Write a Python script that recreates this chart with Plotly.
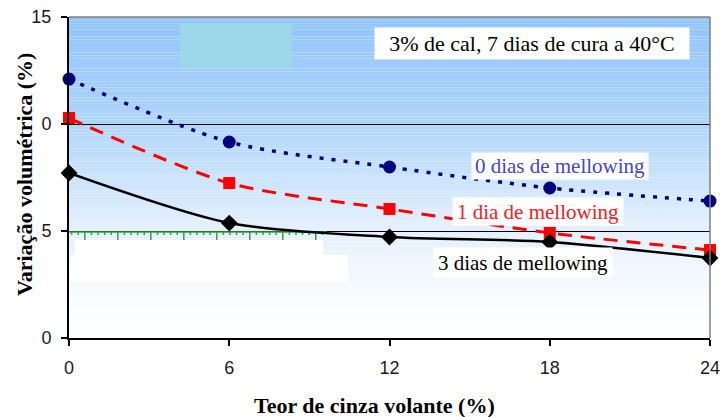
import plotly.graph_objects as go

# ---------------- data ----------------
teor_cinza = [0, 6, 12, 18, 24]
mell_0_dias = [12.10, 9.16, 7.99, 7.01, 6.40]
mell_1_dia = [10.28, 7.24, 6.03, 4.91, 4.11]
mell_3_dias = [7.71, 5.37, 4.72, 4.49, 3.74]

x_ticks = [0, 6, 12, 18, 24]
y_ticks = [0, 5, 10, 15]
y_tick_labels = ["0", "5", "0", "15"]

X_RANGE = [0, 24]
Y_RANGE = [0, 15]

fig = go.Figure()

# ---------------- background gradient (bands) ----------------
stops = [(15.0, (146, 197, 249)), (11.1, (167, 208, 251)), (9.0, (186, 219, 252)),
         (5.3, (226, 239, 254)), (1.8, (250, 252, 255)), (0.0, (255, 255, 255))]


def grad(y):
    for (ya, ca), (yb, cb) in zip(stops[:-1], stops[1:]):
        if yb <= y <= ya:
            t = (ya - y) / (ya - yb)
            return tuple(round(ca[i] + (cb[i] - ca[i]) * t) for i in range(3))
    return stops[-1][1]


shapes = []
n = 100
h = (Y_RANGE[1] - Y_RANGE[0]) / n
for i in range(n):
    y0 = Y_RANGE[0] + i * h
    c = grad(y0 + h / 2)
    shapes.append(dict(type="rect", xref="x", yref="y", x0=X_RANGE[0], x1=X_RANGE[1],
                       y0=y0, y1=y0 + h * 1.02, fillcolor="rgb(%d,%d,%d)" % c,
                       line_width=0, layer="below"))

# cyan block near top
shapes.append(dict(type="rect", xref="x", yref="y", x0=4.16, x1=8.35, y0=12.62, y1=14.67,
                   fillcolor="#9dd7ea", line_width=0, layer="below"))
# white blocks under the 5 line
shapes.append(dict(type="rect", xref="x", yref="y", x0=0.22, x1=9.51, y0=3.88, y1=4.58,
                   fillcolor="white", line_width=0, layer="below"))
shapes.append(dict(type="rect", xref="x", yref="y", x0=0.04, x1=10.45, y0=2.62, y1=3.88,
                   fillcolor="white", line_width=0, layer="below"))

# green ticked line
gy = 4.95
path = "M 0,%.3f L 9.66,%.3f" % (gy, gy)
k = 0
xx = 0.10
while xx < 9.66:
    major = (k % 5 == 2)
    L = 0.37 if major else 0.14
    path += " M %.3f,%.3f L %.3f,%.3f" % (xx, gy, xx, gy - L)
    xx += 0.247
    k += 1
shapes.append(dict(type="path", xref="x", yref="y", path=path,
                   line=dict(color="#3aa040", width=1.5), layer="between"))

# top / right border
shapes.append(dict(type="line", xref="paper", yref="paper", x0=0, x1=1, y0=1, y1=1,
                   line=dict(color="#7f7f7f", width=1.5), layer="above"))
shapes.append(dict(type="line", xref="paper", yref="paper", x0=1, x1=1, y0=0, y1=1,
                   line=dict(color="#7f7f7f", width=1.5), layer="above"))

# ---------------- series ----------------
fig.add_trace(go.Scatter(
    x=teor_cinza, y=mell_0_dias, mode="lines+markers", name="0 dias de mellowing",
    line=dict(color="#000080", width=3.5, dash="4px,8px", shape="spline", smoothing=0.8),
    marker=dict(symbol="circle", size=13, color="#000080"), cliponaxis=False))
fig.add_trace(go.Scatter(
    x=teor_cinza, y=mell_1_dia, mode="lines+markers", name="1 dia de mellowing",
    line=dict(color="#ff0000", width=3, dash="14px,9px", shape="spline", smoothing=0.8),
    marker=dict(symbol="square", size=12, color="#ff0000"), cliponaxis=False))
fig.add_trace(go.Scatter(
    x=teor_cinza, y=mell_3_dias, mode="lines+markers", name="3 dias de mellowing",
    line=dict(color="#000000", width=2.5, shape="spline", smoothing=0.8),
    marker=dict(symbol="diamond", size=13, color="#000000"), cliponaxis=False))

serif = "Liberation Serif, Times New Roman, serif"
annotations = [
    dict(x=17.34, y=13.74, xref="x", yref="y", text="3% de cal, 7 dias de cura a 40°C",
         showarrow=False, font=dict(family=serif, size=22, color="#000000"),
         bgcolor="white", width=314, height=31, borderpad=0),
    dict(x=18.38, y=8.04, xref="x", yref="y", text="0 dias de mellowing",
         showarrow=False, font=dict(family=serif, size=21, color="#4646c8"),
         bgcolor="white", width=176, height=26, borderpad=0),
    dict(x=17.56, y=5.93, xref="x", yref="y", text="1 dia de mellowing",
         showarrow=False, font=dict(family=serif, size=21, color="#f01c24"),
         bgcolor="white", width=170, height=27, borderpad=0),
    dict(x=17.0, y=3.55, xref="x", yref="y", text="3 dias de mellowing",
         showarrow=False, font=dict(family=serif, size=21, color="#000000"),
         bgcolor="white", width=178, height=29, borderpad=0),
    dict(x=0.476, y=-0.209, xref="paper", yref="paper", text="<b>Teor de cinza volante (%)</b>",
         showarrow=False, font=dict(family=serif, size=22, color="#000000"),
         xanchor="center", yanchor="middle"),
    dict(x=-0.0684, y=0.511, xref="paper", yref="paper", text="<b>Variação volumétrica (%)</b>",
         showarrow=False, font=dict(family=serif, size=22, color="#000000"),
         textangle=-90, xanchor="center", yanchor="middle"),
]

tickfont = dict(family="Liberation Sans, Arial, sans-serif", size=18, color="#1a1a2a")

fig.update_layout(
    width=723, height=417,
    margin=dict(l=69, r=13, t=17, b=79, autoexpand=False),
    paper_bgcolor="white", plot_bgcolor="white",
    showlegend=False,
    shapes=shapes,
    annotations=annotations,
    xaxis=dict(range=X_RANGE, tickvals=x_ticks, ticks="outside", ticklen=6, tickwidth=1.5,
               tickcolor="black", showline=True, linecolor="black", linewidth=2,
               showgrid=False, zeroline=False, tickfont=tickfont, ticklabelstandoff=6,
               fixedrange=True, automargin=False),
    yaxis=dict(range=Y_RANGE, tickvals=y_ticks, ticktext=y_tick_labels, ticks="outside",
               ticklen=6, tickwidth=1.5, tickcolor="black", showline=True, linecolor="black",
               linewidth=2, showgrid=True, gridcolor="#000000", gridwidth=1, zeroline=False,
               tickfont=tickfont, ticklabelstandoff=6, fixedrange=True, automargin=False),
)

fig.write_html("out.html")
